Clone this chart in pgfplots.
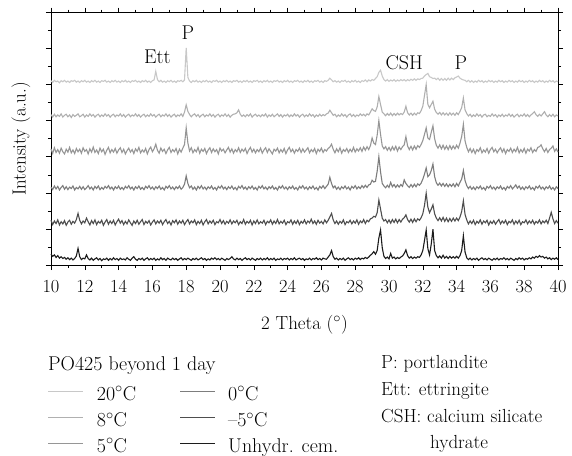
\documentclass[border=0pt]{standalone}
\usepackage{pgfplots}
\usepackage{pgfplotstable}
\pgfplotsset{compat=1.18}
\definecolor{c20}{RGB}{200,200,200}
\definecolor{c8}{RGB}{176,176,176}
\definecolor{c5}{RGB}{150,150,150}
\definecolor{c0}{RGB}{125,125,125}
\definecolor{cm5}{RGB}{78,78,78}
\definecolor{cu}{RGB}{28,28,28}
\pgfplotstableread{
x c20 c8 c5 c0 cm5 cu
10.0 5.11 4.17 3.22 2.16 1.24 0.30
10.1 5.06 4.10 3.09 2.09 1.12 0.24
10.2 5.12 4.18 3.25 2.19 1.22 0.28
10.3 5.08 4.11 3.12 2.11 1.15 0.21
10.4 5.10 4.16 3.20 2.18 1.25 0.26
10.5 5.05 4.12 3.10 2.08 1.11 0.19
10.6 5.11 4.19 3.24 2.15 1.20 0.23
10.7 5.08 4.10 3.14 2.20 1.14 0.18
10.8 5.12 4.15 3.08 2.10 1.23 0.21
10.9 5.07 4.18 3.21 2.17 1.10 0.16
11.0 5.10 4.11 3.13 2.09 1.19 0.20
11.1 5.06 4.16 3.26 2.16 1.24 0.15
11.2 5.11 4.09 3.11 2.12 1.13 0.19
11.3 5.09 4.17 3.19 2.19 1.21 0.14
11.4 5.12 4.12 3.09 2.08 1.16 0.18
11.5 5.07 4.15 3.23 2.15 1.26 0.25
11.6 5.10 4.19 3.14 2.11 1.43 0.46
11.7 5.06 4.11 3.21 2.18 1.24 0.23
11.8 5.11 4.14 3.10 2.10 1.14 0.15
11.9 5.08 4.18 3.25 2.17 1.22 0.19
12.0 5.12 4.10 3.15 2.09 1.17 0.17
12.1 5.07 4.16 3.20 2.14 1.30 0.28
12.2 5.10 4.12 3.08 2.20 1.20 0.18
12.3 5.06 4.19 3.22 2.11 1.11 0.14
12.4 5.11 4.13 3.13 2.16 1.23 0.19
12.5 5.08 4.17 3.27 2.08 1.15 0.13
12.6 5.12 4.10 3.12 2.18 1.25 0.17
12.7 5.07 4.15 3.19 2.12 1.12 0.20
12.8 5.10 4.18 3.09 2.19 1.21 0.14
12.9 5.06 4.11 3.24 2.09 1.16 0.18
13.0 5.11 4.16 3.14 2.15 1.24 0.12
13.1 5.09 4.12 3.21 2.10 1.10 0.17
13.2 5.12 4.19 3.07 2.18 1.19 0.15
13.3 5.07 4.13 3.18 2.13 1.26 0.19
13.4 5.10 4.17 3.26 2.20 1.13 0.13
13.5 5.06 4.10 3.11 2.11 1.22 0.18
13.6 5.11 4.15 3.20 2.16 1.15 0.14
13.7 5.08 4.18 3.13 2.08 1.24 0.20
13.8 5.12 4.11 3.23 2.17 1.11 0.15
13.9 5.07 4.16 3.10 2.12 1.20 0.18
14.0 5.10 4.13 3.19 2.19 1.27 0.13
14.1 5.06 4.19 3.25 2.10 1.16 0.19
14.2 5.11 4.12 3.12 2.15 1.23 0.15
14.3 5.08 4.17 3.21 2.09 1.12 0.17
14.4 5.12 4.10 3.08 2.18 1.21 0.14
14.5 5.07 4.15 3.17 2.13 1.14 0.20
14.6 5.10 4.18 3.24 2.20 1.25 0.16
14.7 5.06 4.11 3.13 2.11 1.17 0.13
14.8 5.11 4.16 3.20 2.16 1.10 0.19
14.9 5.09 4.13 3.09 2.08 1.22 0.23
15.0 5.12 4.19 3.22 2.17 1.15 0.16
15.1 5.07 4.12 3.15 2.12 1.24 0.13
15.2 5.10 4.17 3.26 2.19 1.13 0.18
15.3 5.06 4.10 3.11 2.10 1.20 0.15
15.4 5.11 4.15 3.19 2.15 1.26 0.19
15.5 5.08 4.18 3.13 2.09 1.12 0.13
15.6 5.12 4.11 3.23 2.18 1.21 0.17
15.7 5.07 4.16 3.08 2.13 1.16 0.20
15.8 5.10 4.12 3.20 2.20 1.23 0.14
15.9 5.06 4.19 3.27 2.11 1.11 0.18
16.0 5.11 4.13 3.14 2.16 1.19 0.15
16.1 5.13 4.17 3.22 2.09 1.25 0.19
16.2 5.37 4.10 3.35 2.17 1.14 0.13
16.3 5.14 4.15 3.18 2.12 1.22 0.17
16.4 5.08 4.18 3.10 2.19 1.16 0.14
16.5 5.12 4.11 3.24 2.10 1.24 0.20
16.6 5.07 4.16 3.15 2.15 1.12 0.15
16.7 5.10 4.13 3.21 2.08 1.20 0.18
16.8 5.06 4.19 3.09 2.18 1.26 0.13
16.9 5.11 4.12 3.19 2.13 1.15 0.19
17.0 5.08 4.17 3.26 2.20 1.21 0.16
17.1 5.12 4.10 3.12 2.11 1.11 0.14
17.2 5.07 4.15 3.20 2.16 1.23 0.19
17.3 5.10 4.18 3.14 2.09 1.17 0.15
17.4 5.06 4.11 3.23 2.17 1.25 0.18
17.5 5.11 4.16 3.08 2.12 1.13 0.13
17.6 5.09 4.13 3.21 2.19 1.22 0.17
17.7 5.12 4.19 3.13 2.10 1.16 0.20
17.8 5.08 4.12 3.24 2.15 1.24 0.14
17.9 5.13 4.24 3.34 2.24 1.12 0.18
18.0 6.02 4.44 3.80 2.47 1.20 0.15
18.1 5.20 4.26 3.38 2.26 1.26 0.19
18.2 5.10 4.17 3.16 2.14 1.14 0.16
18.3 5.06 4.11 3.25 2.19 1.22 0.13
18.4 5.11 4.16 3.11 2.10 1.17 0.18
18.5 5.08 4.19 3.20 2.16 1.25 0.15
18.6 5.12 4.12 3.14 2.08 1.12 0.19
18.7 5.07 4.17 3.26 2.18 1.21 0.14
18.8 5.10 4.10 3.10 2.12 1.15 0.17
18.9 5.06 4.15 3.21 2.20 1.24 0.20
19.0 5.11 4.18 3.15 2.11 1.11 0.15
19.1 5.08 4.11 3.23 2.16 1.20 0.18
19.2 5.12 4.16 3.09 2.09 1.26 0.13
19.3 5.07 4.13 3.19 2.17 1.14 0.17
19.4 5.10 4.19 3.25 2.12 1.22 0.14
19.5 5.06 4.12 3.12 2.19 1.16 0.19
19.6 5.11 4.17 3.22 2.10 1.24 0.16
19.7 5.09 4.10 3.14 2.15 1.12 0.20
19.8 5.12 4.15 3.20 2.08 1.20 0.15
19.9 5.07 4.18 3.08 2.18 1.17 0.18
20.0 5.10 4.11 3.24 2.13 1.26 0.14
20.1 5.06 4.16 3.16 2.20 1.15 0.19
20.2 5.11 4.13 3.21 2.11 1.23 0.16
20.3 5.08 4.19 3.11 2.16 1.13 0.13
20.4 5.12 4.12 3.19 2.09 1.21 0.18
20.5 5.07 4.17 3.26 2.17 1.16 0.15
20.6 5.10 4.10 3.13 2.12 1.25 0.18
20.7 5.06 4.15 3.22 2.19 1.14 0.23
20.8 5.11 4.18 3.10 2.10 1.22 0.17
20.9 5.09 4.19 3.20 2.15 1.17 0.14
21.0 5.12 4.22 3.14 2.08 1.24 0.19
21.1 5.07 4.30 3.25 2.18 1.12 0.15
21.2 5.10 4.18 3.12 2.13 1.20 0.18
21.3 5.06 4.12 3.21 2.20 1.15 0.13
21.4 5.11 4.16 3.15 2.11 1.26 0.17
21.5 5.08 4.11 3.23 2.16 1.13 0.20
21.6 5.12 4.17 3.09 2.09 1.21 0.15
21.7 5.07 4.13 3.19 2.17 1.16 0.18
21.8 5.10 4.19 3.26 2.12 1.24 0.14
21.9 5.06 4.10 3.13 2.19 1.11 0.19
22.0 5.11 4.15 3.21 2.10 1.22 0.16
22.1 5.09 4.18 3.11 2.15 1.15 0.13
22.2 5.12 4.12 3.20 2.08 1.25 0.18
22.3 5.07 4.16 3.14 2.18 1.14 0.15
22.4 5.10 4.11 3.24 2.13 1.20 0.19
22.5 5.06 4.17 3.10 2.20 1.16 0.14
22.6 5.11 4.13 3.19 2.11 1.24 0.18
22.7 5.08 4.19 3.25 2.16 1.12 0.15
22.8 5.12 4.10 3.12 2.09 1.21 0.20
22.9 5.07 4.16 3.22 2.17 1.17 0.14
23.0 5.10 4.12 3.15 2.12 1.25 0.18
23.1 5.06 4.18 3.08 2.19 1.13 0.15
23.2 5.11 4.11 3.21 2.10 1.22 0.19
23.3 5.09 4.15 3.16 2.15 1.15 0.13
23.4 5.12 4.19 3.24 2.08 1.26 0.17
23.5 5.07 4.12 3.11 2.18 1.14 0.15
23.6 5.10 4.17 3.20 2.13 1.21 0.19
23.7 5.06 4.10 3.13 2.20 1.16 0.14
23.8 5.11 4.16 3.23 2.11 1.24 0.18
23.9 5.08 4.13 3.09 2.16 1.12 0.16
24.0 5.12 4.18 3.19 2.09 1.20 0.19
24.1 5.07 4.11 3.26 2.17 1.17 0.14
24.2 5.10 4.16 3.14 2.12 1.25 0.18
24.3 5.06 4.12 3.21 2.19 1.13 0.15
24.4 5.11 4.19 3.10 2.10 1.22 0.20
24.5 5.09 4.13 3.20 2.15 1.15 0.14
24.6 5.12 4.17 3.15 2.08 1.24 0.17
24.7 5.07 4.10 3.24 2.18 1.12 0.19
24.8 5.10 4.15 3.12 2.13 1.21 0.15
24.9 5.06 4.18 3.22 2.20 1.16 0.18
25.0 5.11 4.11 3.13 2.11 1.25 0.13
25.1 5.08 4.16 3.19 2.16 1.14 0.17
25.2 5.12 4.12 3.25 2.09 1.22 0.15
25.3 5.07 4.19 3.11 2.17 1.17 0.19
25.4 5.10 4.13 3.20 2.12 1.27 0.14
25.5 5.06 4.17 3.14 2.19 1.15 0.18
25.6 5.11 4.10 3.23 2.10 1.22 0.16
25.7 5.09 4.16 3.09 2.15 1.13 0.20
25.8 5.12 4.12 3.21 2.08 1.24 0.15
25.9 5.07 4.18 3.15 2.18 1.16 0.18
26.0 5.10 4.13 3.24 2.13 1.21 0.14
26.1 5.06 4.17 3.12 2.20 1.14 0.19
26.2 5.11 4.14 3.20 2.12 1.25 0.17
26.3 5.09 4.19 3.16 2.18 1.17 0.16
26.4 5.12 4.21 3.23 2.24 1.24 0.22
26.5 5.18 4.29 3.27 2.43 1.33 0.28
26.6 5.13 4.22 3.35 2.26 1.43 0.40
26.7 5.08 4.15 3.21 2.14 1.25 0.23
26.8 5.11 4.18 3.11 2.19 1.15 0.16
26.9 5.07 4.11 3.22 2.10 1.22 0.19
27.0 5.10 4.16 3.14 2.16 1.13 0.14
27.1 5.06 4.12 3.25 2.09 1.21 0.18
27.2 5.11 4.19 3.10 2.17 1.16 0.15
27.3 5.09 4.13 3.20 2.12 1.25 0.19
27.4 5.12 4.17 3.15 2.19 1.12 0.13
27.5 5.07 4.10 3.23 2.11 1.20 0.17
27.6 5.10 4.16 3.12 2.16 1.17 0.20
27.7 5.06 4.19 3.21 2.08 1.24 0.15
27.8 5.11 4.12 3.14 2.18 1.14 0.18
27.9 5.08 4.17 3.26 2.13 1.22 0.14
28.0 5.12 4.11 3.13 2.20 1.16 0.19
28.1 5.07 4.16 3.22 2.11 1.25 0.16
28.2 5.10 4.13 3.16 2.17 1.13 0.20
28.3 5.06 4.19 3.25 2.12 1.22 0.15
28.4 5.11 4.14 3.15 2.20 1.17 0.19
28.5 5.09 4.18 3.27 2.14 1.26 0.17
28.6 5.13 4.13 3.18 2.21 1.15 0.21
28.7 5.08 4.19 3.28 2.15 1.24 0.18
28.8 5.13 4.16 3.20 2.22 1.20 0.22
28.9 5.10 4.24 3.31 2.24 1.28 0.27
29.0 5.14 4.33 3.52 2.35 1.30 0.31
29.1 5.12 4.28 3.38 2.30 1.35 0.37
29.2 5.17 4.26 3.34 2.32 1.33 0.30
29.3 5.22 4.38 3.60 2.60 1.45 0.40
29.4 5.34 4.67 4.00 3.00 1.80 0.75
29.5 5.40 4.45 3.62 2.58 1.55 0.97
29.6 5.24 4.24 3.30 2.26 1.30 0.48
29.7 5.14 4.19 3.22 2.19 1.22 0.24
29.8 5.10 4.14 3.28 2.14 1.26 0.18
29.9 5.14 4.20 3.18 2.21 1.17 0.22
30.0 5.09 4.15 3.26 2.15 1.25 0.17
30.1 5.13 4.21 3.17 2.29 1.16 0.32
30.2 5.10 4.14 3.28 2.17 1.26 0.19
30.3 5.14 4.20 3.19 2.23 1.18 0.22
30.4 5.09 4.15 3.29 2.15 1.27 0.17
30.5 5.13 4.21 3.16 2.22 1.17 0.21
30.6 5.10 4.16 3.27 2.16 1.26 0.18
30.7 5.14 4.20 3.20 2.23 1.19 0.22
30.8 5.11 4.17 3.28 2.18 1.27 0.25
30.9 5.14 4.24 3.33 2.36 1.31 0.32
31.0 5.10 4.40 3.56 2.26 1.39 0.42
31.1 5.14 4.22 3.30 2.20 1.26 0.26
31.2 5.11 4.16 3.20 2.15 1.19 0.19
31.3 5.15 4.21 3.29 2.23 1.27 0.23
31.4 5.12 4.15 3.19 2.16 1.18 0.18
31.5 5.16 4.21 3.30 2.24 1.28 0.22
31.6 5.12 4.16 3.21 2.17 1.20 0.19
31.7 5.16 4.22 3.31 2.25 1.28 0.23
31.8 5.14 4.20 3.26 2.21 1.24 0.21
31.9 5.17 4.28 3.34 2.27 1.31 0.28
32.0 5.18 4.40 3.45 2.38 1.42 0.40
32.1 5.24 4.70 3.62 2.52 1.65 0.68
32.2 5.28 5.00 3.80 2.69 1.99 0.97
32.3 5.31 4.45 3.52 2.45 1.60 0.45
32.4 5.22 4.36 3.48 2.50 1.45 0.28
32.5 5.20 4.45 3.68 2.62 1.55 0.58
32.6 5.17 4.54 3.86 2.80 1.67 0.99
32.7 5.18 4.32 3.50 2.45 1.42 0.40
32.8 5.14 4.23 3.32 2.28 1.30 0.26
32.9 5.18 4.18 3.24 2.21 1.23 0.20
33.0 5.12 4.23 3.33 2.27 1.31 0.25
33.1 5.17 4.16 3.22 2.19 1.22 0.19
33.2 5.12 4.22 3.32 2.26 1.32 0.27
33.3 5.17 4.16 3.21 2.18 1.21 0.19
33.4 5.12 4.21 3.30 2.25 1.30 0.24
33.5 5.18 4.15 3.20 2.17 1.20 0.18
33.6 5.13 4.22 3.31 2.24 1.29 0.24
33.7 5.18 4.16 3.21 2.18 1.21 0.19
33.8 5.14 4.21 3.30 2.25 1.30 0.23
33.9 5.19 4.15 3.22 2.17 1.22 0.19
34.0 5.21 4.22 3.32 2.26 1.30 0.24
34.1 5.24 4.17 3.24 2.19 1.23 0.19
34.2 5.18 4.26 3.38 2.29 1.33 0.26
34.3 5.15 4.36 3.56 2.38 1.48 0.40
34.4 5.13 4.63 3.90 2.62 1.78 0.81
34.5 5.12 4.30 3.44 2.34 1.40 0.36
34.6 5.08 4.20 3.26 2.20 1.25 0.20
34.7 5.12 4.13 3.14 2.12 1.14 0.15
34.8 5.07 4.18 3.23 2.18 1.22 0.19
34.9 5.11 4.11 3.12 2.10 1.15 0.14
35.0 5.06 4.16 3.21 2.16 1.24 0.18
35.1 5.10 4.12 3.09 2.09 1.12 0.15
35.2 5.07 4.19 3.20 2.17 1.21 0.19
35.3 5.12 4.13 3.15 2.12 1.16 0.13
35.4 5.08 4.17 3.25 2.19 1.25 0.17
35.5 5.11 4.10 3.11 2.10 1.13 0.20
35.6 5.06 4.16 3.19 2.15 1.22 0.15
35.7 5.10 4.18 3.13 2.08 1.17 0.18
35.8 5.07 4.11 3.23 2.18 1.24 0.14
35.9 5.12 4.15 3.10 2.13 1.11 0.19
36.0 5.08 4.12 3.20 2.20 1.21 0.16
36.1 5.11 4.19 3.26 2.11 1.15 0.13
36.2 5.06 4.13 3.14 2.16 1.23 0.18
36.3 5.10 4.17 3.21 2.09 1.13 0.15
36.4 5.07 4.10 3.11 2.17 1.20 0.19
36.5 5.12 4.16 3.19 2.12 1.26 0.14
36.6 5.08 4.12 3.25 2.19 1.14 0.18
36.7 5.11 4.18 3.13 2.10 1.22 0.16
36.8 5.06 4.11 3.22 2.15 1.16 0.20
36.9 5.10 4.16 3.09 2.08 1.24 0.15
37.0 5.07 4.13 3.20 2.18 1.12 0.18
37.1 5.12 4.19 3.15 2.13 1.21 0.14
37.2 5.08 4.12 3.24 2.20 1.17 0.19
37.3 5.11 4.17 3.12 2.11 1.25 0.16
37.4 5.06 4.10 3.21 2.16 1.13 0.13
37.5 5.10 4.15 3.14 2.22 1.22 0.18
37.6 5.07 4.18 3.26 2.13 1.15 0.15
37.7 5.12 4.11 3.11 2.19 1.24 0.20
37.8 5.08 4.16 3.20 2.10 1.12 0.16
37.9 5.11 4.13 3.13 2.16 1.20 0.19
38.0 5.06 4.19 3.23 2.09 1.17 0.14
38.1 5.10 4.12 3.10 2.17 1.25 0.18
38.2 5.07 4.17 3.21 2.12 1.14 0.16
38.3 5.12 4.11 3.16 2.19 1.22 0.20
38.4 5.08 4.16 3.25 2.10 1.16 0.17
38.5 5.11 4.20 3.12 2.15 1.24 0.22
38.6 5.06 4.25 3.20 2.08 1.13 0.19
38.7 5.10 4.17 3.15 2.18 1.21 0.24
38.8 5.07 4.12 3.26 2.13 1.16 0.21
38.9 5.12 4.18 3.28 2.20 1.25 0.26
39.0 5.08 4.13 3.33 2.11 1.14 0.22
39.1 5.11 4.19 3.22 2.16 1.22 0.24
39.2 5.06 4.25 3.14 2.09 1.17 0.19
39.3 5.10 4.16 3.23 2.17 1.24 0.22
39.4 5.07 4.11 3.12 2.12 1.15 0.17
39.5 5.12 4.17 3.20 2.19 1.30 0.20
39.6 5.08 4.12 3.24 2.10 1.46 0.15
39.7 5.11 4.18 3.30 2.15 1.28 0.19
39.8 5.06 4.11 3.15 2.08 1.15 0.16
39.9 5.10 4.16 3.22 2.17 1.23 0.20
40.0 5.08 4.13 3.13 2.12 1.16 0.15
}\xrd

\begin{document}
\begin{tikzpicture}[font=\fontsize{20}{24}\selectfont]
\useasboundingbox (0,0) rectangle (572bp,-456bp);
\begin{axis}[
  at={(51bp,-265bp)}, anchor=south west,
  scale only axis, width=507bp, height=252.5bp,
  xmin=10, xmax=40, ymin=0, ymax=7,
  xtick={10,12,...,40}, minor x tick num=1,
  ytick={0,1,...,7}, minor y tick num=1, yticklabels={},
  tick align=outside, major tick length=5bp, minor tick length=3bp,
  tick style={black, line width=0.6bp},
  axis line style={black, line width=0.8bp},
  /pgf/number format/assume math mode=true,
  tick label style={font=\fontsize{18.5}{22}\selectfont},
  label style={font=\fontsize{19}{23}\selectfont},
  xticklabel style={yshift=-7bp},
  xlabel={2 Theta ($^{\circ}$)},
  ylabel={Intensity (a.u.)},
  xlabel style={at={(axis description cs:0.5,-0.2535)}, anchor=base},
  ylabel style={at={(axis description cs:-0.0592,0.5)}, anchor=center},
  clip=false,
]
\addplot[c20, line width=1.1bp] table[x=x, y=c20]{\xrd};
\addplot[c8, line width=1.1bp] table[x=x, y=c8]{\xrd};
\addplot[c5, line width=1.1bp] table[x=x, y=c5]{\xrd};
\addplot[c0, line width=1.1bp] table[x=x, y=c0]{\xrd};
\addplot[cm5, line width=1.1bp] table[x=x, y=cm5]{\xrd};
\addplot[cu, line width=1.1bp] table[x=x, y=cu]{\xrd};
\node[anchor=base] at (axis cs:16.3,5.59) {Ett};
\node[anchor=base] at (axis cs:18.1,6.24) {P};
\node[anchor=base] at (axis cs:30.9,5.41) {CSH};
\node[anchor=base] at (axis cs:34.25,5.41) {P};
\end{axis}
% legend
\node[anchor=base west, inner sep=0] at (48bp,-370.7bp) {PO425 beyond 1 day};
\draw[c20, line width=1bp] (48bp,-391bp) -- (83bp,-391bp);
\node[anchor=base west, inner sep=0] at (96.7bp,-400bp) {20$^{\circ}$C};
\draw[c8, line width=1bp] (48bp,-417.5bp) -- (83bp,-417.5bp);
\node[anchor=base west, inner sep=0] at (96.7bp,-426.5bp) {8$^{\circ}$C};
\draw[c5, line width=1bp] (48bp,-443bp) -- (83bp,-443bp);
\node[anchor=base west, inner sep=0] at (96.7bp,-452bp) {5$^{\circ}$C};
\draw[c0, line width=1bp] (180bp,-391bp) -- (215bp,-391bp);
\node[anchor=base west, inner sep=0] at (228bp,-400bp) {0$^{\circ}$C};
\draw[cm5, line width=1bp] (180bp,-417.5bp) -- (215bp,-417.5bp);
\node[anchor=base west, inner sep=0] at (228bp,-426.5bp) {--5$^{\circ}$C};
\draw[cu, line width=1bp] (180bp,-443bp) -- (215bp,-443bp);
\node[anchor=base west, inner sep=0] at (228bp,-452bp) {Unhydr. cem.};
\begin{scope}[font=\fontsize{19}{23}\selectfont]
\node[anchor=base west, inner sep=0] at (381bp,-368bp) {P: portlandite};
\node[anchor=base west, inner sep=0] at (381bp,-395bp) {Ett: ettringite};
\node[anchor=base west, inner sep=0] at (381bp,-422bp) {CSH: calcium silicate};
\node[anchor=base west, inner sep=0] at (430bp,-448bp) {hydrate};
\end{scope}
\end{tikzpicture}
\end{document}
